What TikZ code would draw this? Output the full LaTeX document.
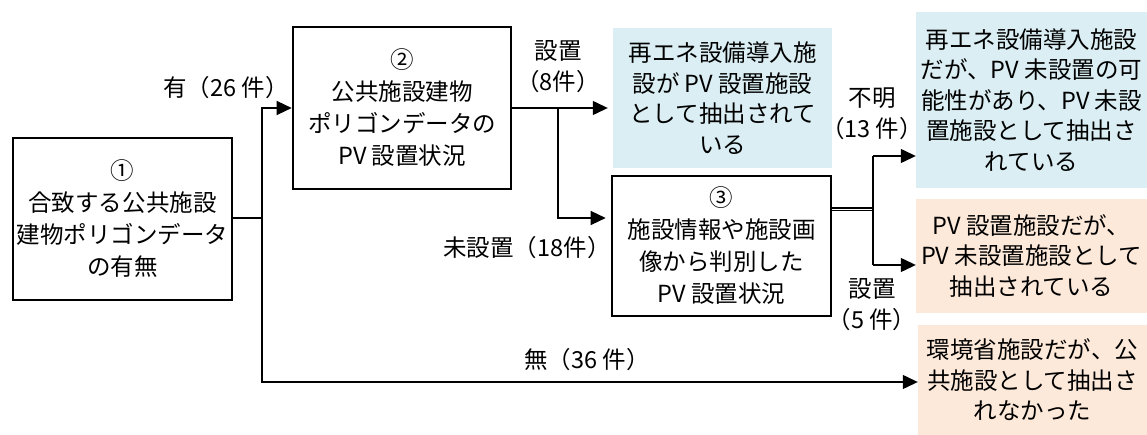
\documentclass[tikz,border=0pt]{standalone}
\usepackage{fontspec}
\setmainfont{Noto Sans CJK JP}
\usetikzlibrary{arrows.meta,calc}
\definecolor{bluefill}{HTML}{DAEEF3}
\definecolor{peachfill}{HTML}{FDE9D9}
\tikzset{
  base/.style={inner sep=0pt, align=center, font=\fontsize{23.5bp}{32bp}\selectfont},
  blackbox/.style={base, draw=black, line width=2.6bp, fill=white},
  bluebox/.style={base, fill=bluefill, font=\fontsize{23.5bp}{30.5bp}\selectfont},
  peachbox/.style={base, fill=peachfill, font=\fontsize{23.5bp}{30.5bp}\selectfont},
  lbl/.style={base, font=\fontsize{23.5bp}{31bp}\selectfont},
  conn/.style={line width=1.3bp, draw=black},
  arr/.style={conn, -{Triangle[length=15bp,width=14bp]}},
}
\begin{document}
\begin{tikzpicture}[x=1bp,y=-1bp]
\useasboundingbox (0,0) rectangle (1147,435);
% boxes
\node[blackbox, minimum width=219bp, minimum height=162bp] (b1) at (122.5,219) {①\\合致する公共施設\\建物ポリゴンデータ\\の有無};
\node[blackbox, minimum width=218bp, minimum height=162bp] (b2) at (402,108) {②\\公共施設建物\\ポリゴンデータの\\PV 設置状況};
\node[blackbox, minimum width=219bp, minimum height=140bp] (b3) at (721.5,246) {③\\施設情報や施設画\\像から判別した\\PV 設置状況};
\node[bluebox, minimum width=219bp, minimum height=140bp] (ra) at (722.5,98) {再エネ設備導入施\\設が PV 設置施設\\として抽出されて\\いる};
\node[bluebox, minimum width=231bp, minimum height=176bp] (rb) at (1031.5,100) {再エネ設備導入施設\\だが、PV 未設置の可\\能性があり、PV 未設\\置施設として抽出さ\\れている};
\node[peachbox, minimum width=231bp, minimum height=114bp] (rc) at (1031.5,256) {PV 設置施設だが、\\PV 未設置施設として\\抽出されている};
\node[peachbox, minimum width=229bp, minimum height=110bp] (rd) at (1032.5,380) {環境省施設だが、公\\共施設として抽出さ\\れなかった};
% junction coordinates
\coordinate (j1) at (262,218);
\coordinate (j2) at (558,108);
\coordinate (j3) at (873,209.5);
\coordinate (j3a) at (873,156);
\coordinate (j3b) at (873,265);
\coordinate (j1d) at (262,382);
% connectors
\draw[conn] (b1.east |- j1) -- (j1);
\draw[arr] (j1) |- (b2.west);
\draw[arr] (j1) -- (j1d) -- (j1d -| rd.west);
\draw[conn] (b2.east) -- (j2);
\draw[arr, shorten >=5bp] (j2) -- (j2 -| ra.west);
\draw[arr, shorten >=5bp] (j2) |- (j1 -| b3.west);
\draw[line width=1.2bp, double, double distance=1.6bp] (b3.east |- j3) -- (j3);
\draw[conn] (j3a) -- (j3b);
\draw[arr] (j3a) -- (j3a -| rb.west);
\draw[arr] (j3b) -- (j3b -| rc.west);
% labels
\node[lbl] (l1) at (226,88) {有（26 件）};
\node[lbl] (l2) at (558,67) {設置\\（8件）};
\node[lbl] (l3) at (527,248) {未設置（18件）};
\node[lbl] (l4) at (872,114) {不明\\（13 件）};
\node[lbl] (l5) at (872,305) {設置\\（5 件）};
\node[lbl] (l6) at (587,360) {無（36 件）};
\end{tikzpicture}
\end{document}
